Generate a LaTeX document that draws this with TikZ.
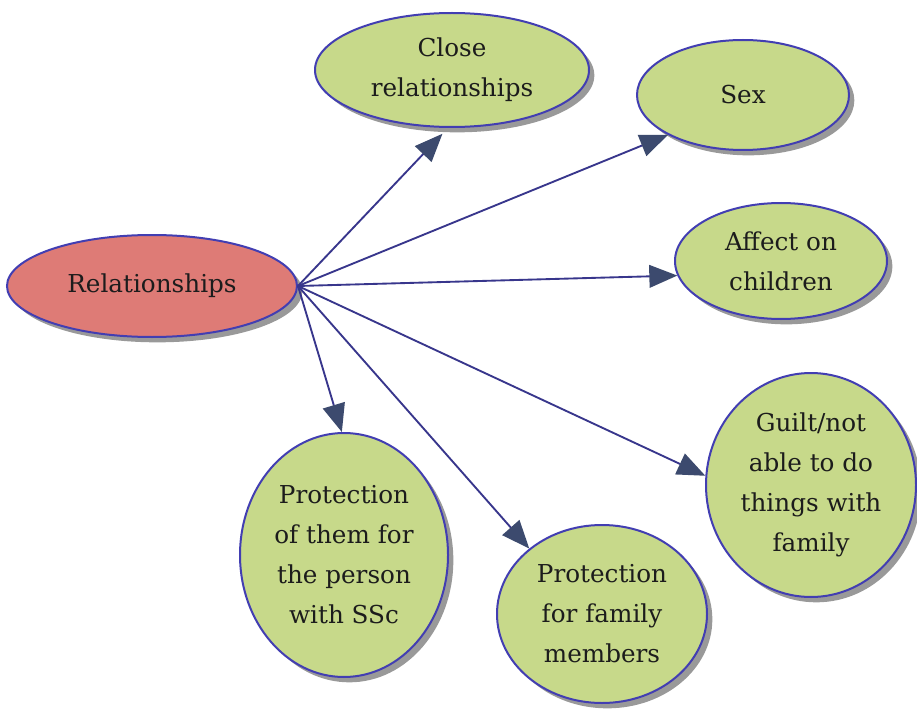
\documentclass[tikz,border=0pt]{standalone}
\usepackage{fontspec}
\setmainfont{DejaVu Serif}
\usetikzlibrary{shapes.geometric,arrows.meta,shadows}

\definecolor{leafgreen}{RGB}{199,217,138}
\definecolor{rosered}{RGB}{222,123,118}
\definecolor{rimblue}{RGB}{66,62,178}
\definecolor{linkblue}{RGB}{56,54,140}
\definecolor{headslate}{RGB}{60,74,110}
\definecolor{inkgrey}{RGB}{28,28,28}

\tikzset{
  bubble/.style={ellipse, draw=rimblue, line width=1.5pt, inner sep=0pt,
    align=center, text=inkgrey,
    font=\fontsize{18.5pt}{30pt}\selectfont,
    drop shadow={shadow xshift=4pt, shadow yshift=-4pt, fill=black!40, opacity=1}},
  topic/.style={bubble, fill=leafgreen},
  hub/.style={bubble, fill=rosered},
  link/.style={draw=linkblue, line width=1.4pt,
    -{Triangle[length=21pt,width=17pt,fill=headslate,color=headslate]}}
}

\begin{document}
\begin{tikzpicture}[x=0.75pt,y=-0.75pt]
  \useasboundingbox (0,0) rectangle (917,713);
  \fill[white] (0,0) rectangle (917,713);

  % central theme
  \node[hub, minimum width=217.5pt, minimum height=76.5pt] (rel) at (152,286) {Relationships};

  % sub-themes
  \node[topic, minimum width=205.5pt, minimum height=85.5pt] (close) at (452,70) {Close\\relationships};
  \node[topic, minimum width=159pt, minimum height=82.5pt] (sex) at (743,95) {Sex};
  \node[topic, minimum width=159pt, minimum height=87pt] (affect) at (781,261) {Affect on\\children};
  \node[topic, minimum width=157.5pt, minimum height=168pt] (guilt) at (811,485) {Guilt/not\\able to do\\things with\\family};
  \node[topic, minimum width=157.5pt, minimum height=133.5pt] (family) at (602,614) {Protection\\for family\\members};
  \node[topic, minimum width=156pt, minimum height=183pt] (them) at (344,555) {Protection\\of them for\\the person\\with SSc};

  % connectors from the central theme
  \draw[link, shorten >=6pt] (rel.east) -- (close.-94);
  \draw[link] (rel.east) -- (sex.-152);
  \draw[link] (rel.east) -- (affect.-172);
  \draw[link] (rel.east) -- (guilt.175);
  \draw[link] (rel.east) -- (family.138);
  \draw[link] (rel.east) -- (them.91);
\end{tikzpicture}
\end{document}
